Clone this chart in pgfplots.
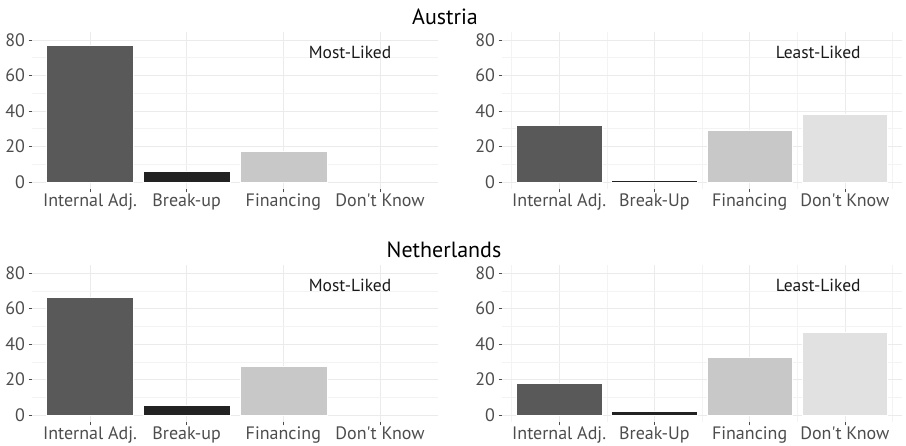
\documentclass[border=0pt]{standalone}
\usepackage{fontspec}
\setmainfont{PT Sans}
\usepackage{pgfplots}
\pgfplotsset{compat=1.18}
\definecolor{cInt}{HTML}{595959}
\definecolor{cBrk}{HTML}{222222}
\definecolor{cFin}{HTML}{C8C8C8}
\definecolor{cDK}{HTML}{E1E1E1}
\definecolor{gridc}{HTML}{EBEBEB}
\definecolor{tickc}{HTML}{4D4D4D}
\tikzset{ann/.style={font=\fontsize{17.5}{17.5}\selectfont, text=black!90}}
\pgfplotsset{
  panel/.style={
    scale only axis, xmin=-0.6, xmax=3.6, ymin=-4, ymax=84.5,
    axis line style={draw=none},
    tick align=outside, tick pos=left,
    major tick length=3.5pt, minor tick length=0pt,
    tick style={tickc, line width=0.6pt},
    xtick={0,1,2,3}, ytick={0,20,40,60,80},
    minor ytick={10,30,50,70},
    ymajorgrids, yminorgrids, xmajorgrids,
    major grid style={gridc, line width=0.7pt},
    minor grid style={gridc!60!white, line width=0.5pt},
    ticklabel style={font=\fontsize{18}{18}\selectfont, text=tickc},
    xticklabel style={yshift=2.5pt},
    /pgf/number format/assume math mode=true,
    ybar, bar width=0.9,
  },
  rightpanel/.style={panel, minor xtick={-0.5,0.5,1.5,2.5,3.5}, xminorgrids,
    xticklabels={Internal Adj.,Break-Up,Financing,{Don\textquotesingle t Know}}},
  leftpanel/.style={panel,
    xticklabels={Internal Adj.,Break-up,Financing,{Don\textquotesingle t Know}}},
  b/.style={bar shift=0pt, draw=white, line width=0.5pt, fill=#1},
}
\begin{document}
\begin{tikzpicture}
\useasboundingbox (0,0) rectangle (906pt,446pt);
\node[anchor=base, font=\fontsize{22}{22}\selectfont] at (445pt,421pt) {Austria};
\node[anchor=base, font=\fontsize{22}{22}\selectfont] at (444pt,188pt) {Netherlands};

% Austria, Most-Liked
\begin{axis}[leftpanel, at={(32pt,257pt)}, anchor=south west, width=406pt, height=157pt]
\addplot[b=cInt] coordinates {(0,77.2)};
\addplot[b=cBrk] coordinates {(1,5.8)};
\addplot[b=cFin] coordinates {(2,17.5)};
\node[ann] at (axis cs:2.69,73) {Most-Liked};
\end{axis}

% Austria, Least-Liked
\begin{axis}[rightpanel, at={(502pt,257pt)}, anchor=south west, width=400pt, height=157pt]
\addplot[b=cInt] coordinates {(0,32.1)};
\addplot[b=cBrk] coordinates {(1,1.0)};
\addplot[b=cFin] coordinates {(2,29.3)};
\addplot[b=cDK] coordinates {(3,37.9)};
\node[ann] at (axis cs:2.72,73) {Least-Liked};
\end{axis}

% Netherlands, Most-Liked
\begin{axis}[leftpanel, at={(32pt,24pt)}, anchor=south west, width=406pt, height=156.7pt]
\addplot[b=cInt] coordinates {(0,66.2)};
\addplot[b=cBrk] coordinates {(1,5.7)};
\addplot[b=cFin] coordinates {(2,27.3)};
\node[ann] at (axis cs:2.69,73) {Most-Liked};
\end{axis}

% Netherlands, Least-Liked
\begin{axis}[rightpanel, at={(502pt,24pt)}, anchor=south west, width=400pt, height=156.7pt]
\addplot[b=cInt] coordinates {(0,17.9)};
\addplot[b=cBrk] coordinates {(1,2.3)};
\addplot[b=cFin] coordinates {(2,32.6)};
\addplot[b=cDK] coordinates {(3,46.5)};
\node[ann] at (axis cs:2.72,73) {Least-Liked};
\end{axis}
\end{tikzpicture}
\end{document}
